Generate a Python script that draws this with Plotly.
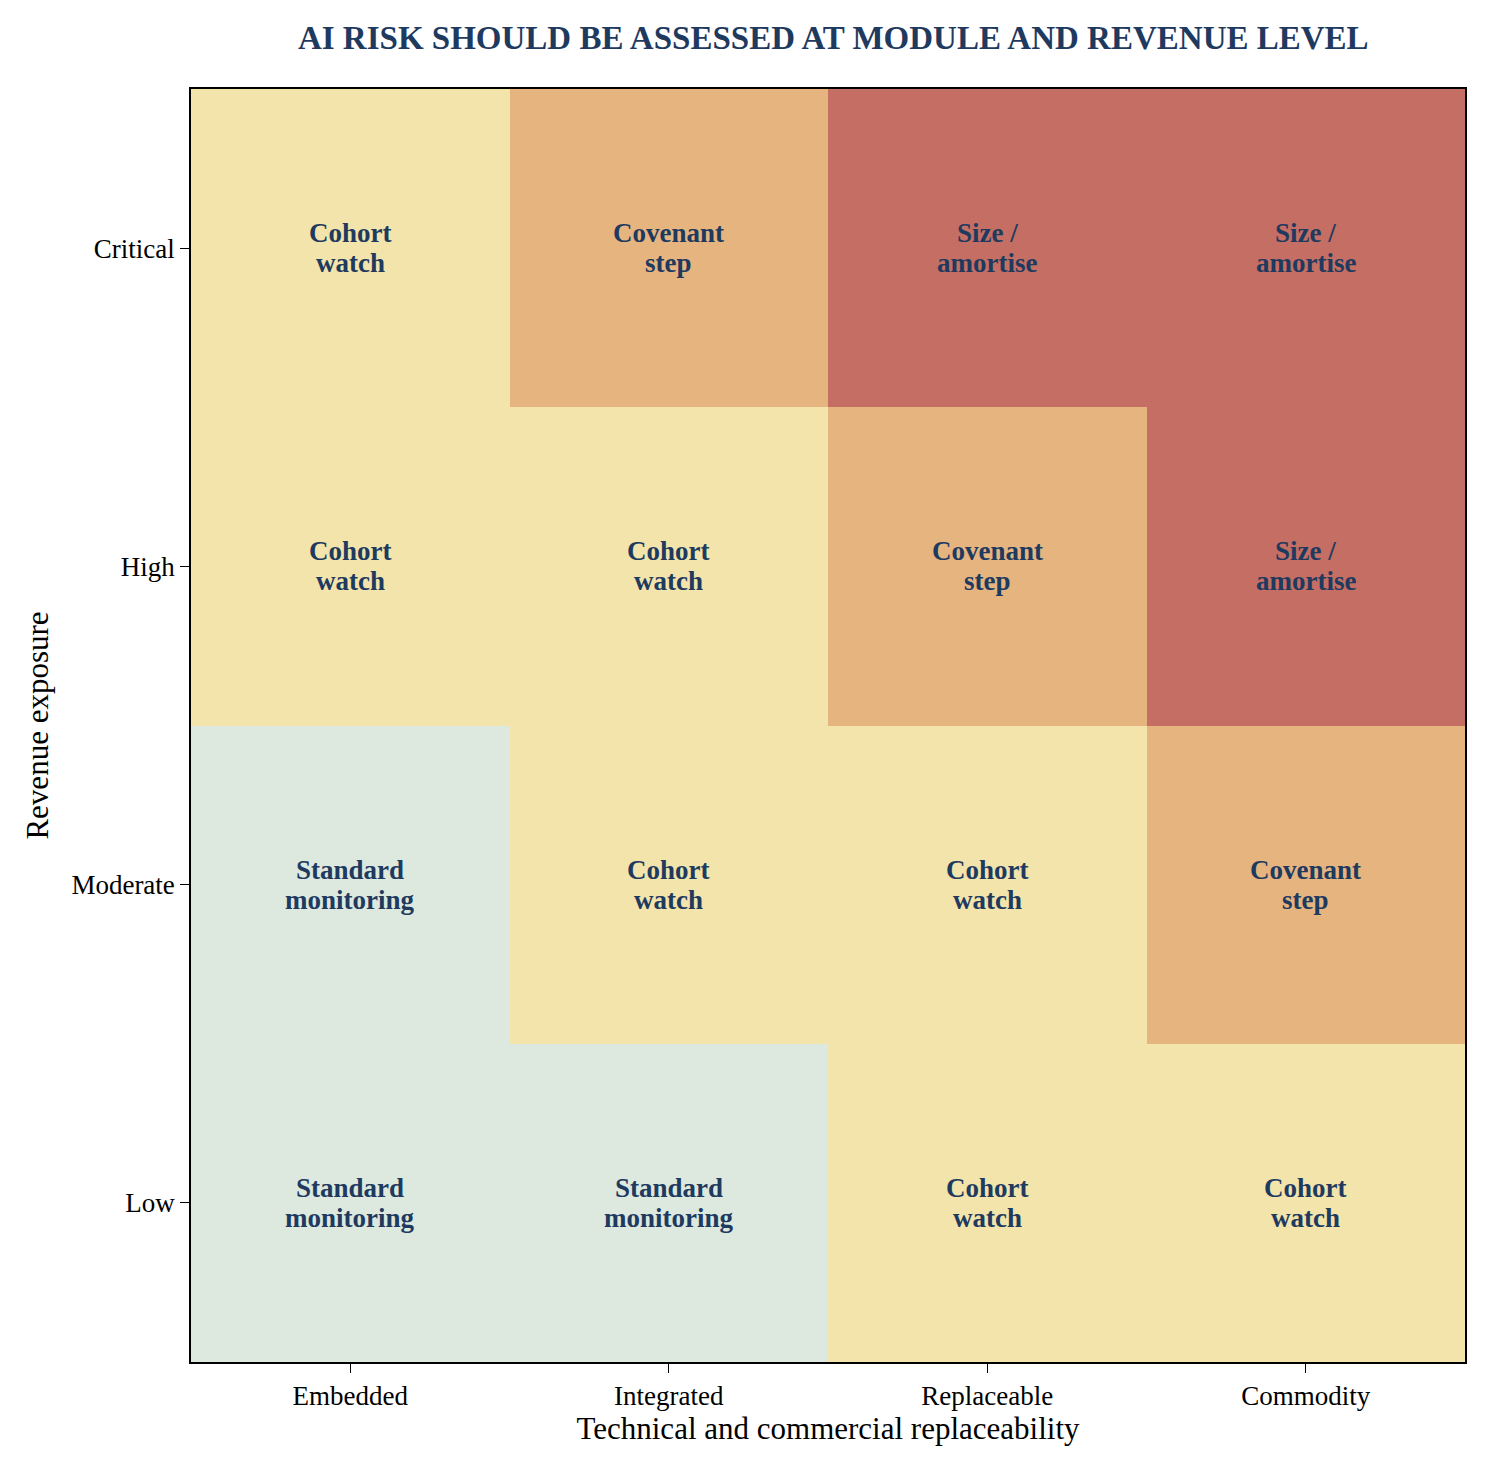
import plotly.graph_objects as go

# Data
x_labels = ["Embedded", "Integrated", "Replaceable", "Commodity"]
y_labels = ["Low", "Moderate", "High", "Critical"]
levels = [
    [0, 0, 1, 1],
    [0, 1, 1, 2],
    [1, 1, 2, 3],
    [1, 2, 3, 3],
]
actions = [("Standard", "monitoring"), ("Cohort", "watch"), ("Covenant", "step"), ("Size /", "amortise")]
colors = ["#dde9df", "#f2e4ab", "#e6b47f", "#c56e63"]

colorscale = []
for i, c in enumerate(colors):
    colorscale.append([i / 4, c])
    colorscale.append([(i + 1) / 4, c])

fig = go.Figure(go.Heatmap(
    z=levels, x=x_labels, y=y_labels,
    colorscale=colorscale, zmin=-0.5, zmax=3.5,
    showscale=False, xgap=0, ygap=0,
))

# two lines per cell, placed by hand for tighter line spacing
for r, yl in enumerate(y_labels):
    for c, xl in enumerate(x_labels):
        top, bottom = actions[levels[r][c]]
        for txt, shift in ((top, 15), (bottom, -15)):
            fig.add_annotation(x=xl, y=yl, text="<b>" + txt + "</b>", yshift=shift,
                               showarrow=False, font=dict(size=27, color="#1f3a5f"))

axis_common = dict(showline=True, linecolor="black", linewidth=1.5, mirror=True,
                   ticks="outside", ticklen=9, tickwidth=1.2, tickcolor="black",
                   showgrid=False, zeroline=False,
                   tickfont=dict(size=27, color="black"))

fig.update_layout(
    width=1487, height=1474,
    margin=dict(l=183, r=30, t=81, b=120),
    paper_bgcolor="white", plot_bgcolor="white",
    font=dict(family="Liberation Serif, Times New Roman, serif", color="black"),
    title=dict(text="<b>AI RISK SHOULD BE ASSESSED AT MODULE AND REVENUE LEVEL</b>",
               x=0.555, xanchor="center", y=0.988, yanchor="top",
               font=dict(size=33, color="#1f3a5f")),
    xaxis=dict(title=dict(text="Technical and commercial replaceability", font=dict(size=31), standoff=6),
               **axis_common),
    yaxis=dict(title=dict(text="Revenue exposure", font=dict(size=31), standoff=14),
               **axis_common),
)

fig.write_html("out.html")
